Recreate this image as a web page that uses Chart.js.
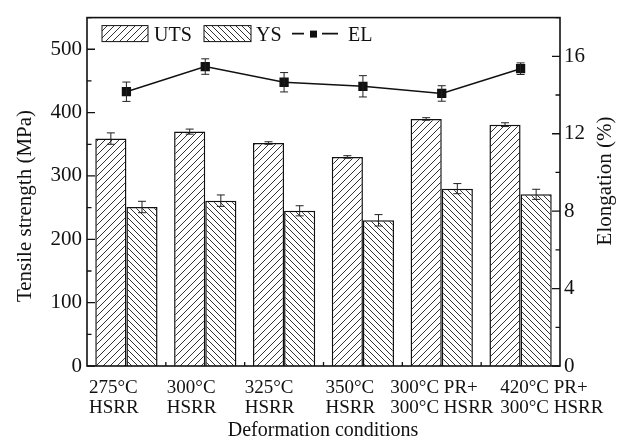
<!DOCTYPE html>
<html>
<head>
<meta charset="utf-8">
<script src="https://cdn.jsdelivr.net/npm/chart.js@4.4.0/dist/chart.umd.min.js"></script>
<style>
  html, body { margin: 0; padding: 0; background: #fff; }
  #wrap { width: 623px; height: 440px; }
</style>
</head>
<body>
<div id="wrap"><canvas id="c" width="623" height="440"></canvas></div>
<script>
// --- data ---
const categories = [
  ['275°C', 'HSRR'],
  ['300°C', 'HSRR'],
  ['325°C', 'HSRR'],
  ['350°C', 'HSRR'],
  ['300°C PR+', '300°C HSRR'],
  ['420°C PR+', '300°C HSRR']
];
const uts = [359, 370, 352, 330, 390, 381];
const utsErr = [9, 4, 2, 2, 2, 3];
const ys = [251, 261, 245, 230, 280, 271];
const ysErr = [9, 9, 8, 9, 8, 8];
const el = [14.17, 15.47, 14.66, 14.45, 14.08, 15.36];
const elErr = [0.5, 0.4, 0.5, 0.55, 0.4, 0.3];

const SERIF = "'Liberation Serif', 'Times New Roman', serif";
const labelShift = [2, 1, 0, 2, -12, 19]; // left-aligned category labels, nudged like the original

// hatch patterns
function hatch(dir, size) {
  const cv = document.createElement('canvas');
  cv.width = size; cv.height = size;
  const g = cv.getContext('2d');
  g.fillStyle = '#fff';
  g.fillRect(0, 0, size, size);
  g.strokeStyle = '#333';
  g.lineWidth = 1;
  g.beginPath();
  if (dir === '/') {
    g.moveTo(-1, size + 1); g.lineTo(size + 1, -1);
    g.moveTo(-1, 1); g.lineTo(1, -1);
    g.moveTo(size - 1, size + 1); g.lineTo(size + 1, size - 1);
  } else {
    g.moveTo(-1, -1); g.lineTo(size + 1, size + 1);
    g.moveTo(size - 1, -1); g.lineTo(size + 1, 1);
    g.moveTo(-1, size - 1); g.lineTo(1, size + 1);
  }
  g.stroke();
  return g.createPattern(cv, 'repeat');
}
const ctx0 = document.getElementById('c').getContext('2d');
const utsFill = hatch('/', 7);
const ysFill = hatch('\\', 6);

function errBar(ctx, x, yTop, yBot, cap) {
  ctx.beginPath();
  ctx.moveTo(x, yTop); ctx.lineTo(x, yBot);
  ctx.moveTo(x - cap, yTop); ctx.lineTo(x + cap, yTop);
  ctx.moveTo(x - cap, yBot); ctx.lineTo(x + cap, yBot);
  ctx.stroke();
}

const decor = {
  id: 'decor',
  afterDatasetsDraw(chart) {
    const { ctx } = chart;
    const y = chart.scales.y, y2 = chart.scales.y2;
    ctx.save();
    ctx.strokeStyle = '#222';
    ctx.lineWidth = 1;
    [[0, uts, utsErr, y], [1, ys, ysErr, y], [2, el, elErr, y2]].forEach(([di, vals, errs, sc]) => {
      const meta = chart.getDatasetMeta(di);
      meta.data.forEach((el, i) => {
        errBar(ctx, el.x, sc.getPixelForValue(vals[i] + errs[i]), sc.getPixelForValue(vals[i] - errs[i]), 4);
      });
    });
    ctx.restore();
  },
  afterDraw(chart) {
    const { ctx, chartArea: a } = chart;
    const x = chart.scales.x, y = chart.scales.y, y2 = chart.scales.y2;
    ctx.save();
    ctx.strokeStyle = '#111';
    ctx.lineWidth = 1.6;
    ctx.strokeRect(a.left, a.top, a.right - a.left, a.bottom - a.top);

    // inward ticks
    ctx.lineWidth = 1.3;
    ctx.beginPath();
    y.ticks.forEach(t => {
      const py = y.getPixelForValue(t.value);
      const len = t.value % 100 === 0 ? 8 : 4.5;
      ctx.moveTo(a.left, py); ctx.lineTo(a.left + len, py);
    });
    y2.ticks.forEach(t => {
      const py = y2.getPixelForValue(t.value);
      const len = t.value % 4 === 0 ? 8 : 4.5;
      ctx.moveTo(a.right, py); ctx.lineTo(a.right - len, py);
    });
    for (let i = 1; i < categories.length; i++) {
      const px = (x.getPixelForValue(i - 1) + x.getPixelForValue(i)) / 2;
      ctx.moveTo(px, a.bottom); ctx.lineTo(px, a.bottom - 4);
    }
    ctx.stroke();

    // category labels
    const cw = x.getPixelForValue(1) - x.getPixelForValue(0);
    ctx.fillStyle = '#111';
    ctx.font = '19px ' + SERIF;
    ctx.textAlign = 'left';
    ctx.textBaseline = 'alphabetic';
    categories.forEach((lines, i) => {
      const px = x.getPixelForValue(i) - cw / 2 + labelShift[i];
      ctx.fillText(lines[0], px, a.bottom + 27);
      ctx.fillText(lines[1], px, a.bottom + 47);
    });

    // axis titles
    ctx.font = '20px ' + SERIF;
    ctx.textAlign = 'center';
    ctx.fillText('Deformation conditions', 323, 436);
    ctx.textBaseline = 'middle';
    ctx.save();
    ctx.translate(25, 206);
    ctx.rotate(-Math.PI / 2);
    ctx.font = '21px ' + SERIF;
    ctx.fillText('Tensile strength (MPa)', 0, 0);
    ctx.restore();
    ctx.save();
    ctx.translate(605, 181);
    ctx.rotate(-Math.PI / 2);
    ctx.font = '21px ' + SERIF;
    ctx.fillText('Elongation (%)', 0, 0);
    ctx.restore();

    // legend
    const lx = a.left, ly = a.top;
    ctx.lineWidth = 1;
    ctx.strokeStyle = '#111';
    ctx.fillStyle = utsFill;
    ctx.fillRect(lx + 15, ly + 8, 46, 16);
    ctx.strokeRect(lx + 15, ly + 8, 46, 16);
    ctx.fillStyle = ysFill;
    ctx.fillRect(lx + 117, ly + 8, 47, 16);
    ctx.strokeRect(lx + 117, ly + 8, 47, 16);
    ctx.lineWidth = 1.8;
    ctx.beginPath();
    ctx.moveTo(lx + 205, ly + 16); ctx.lineTo(lx + 217, ly + 16);
    ctx.moveTo(lx + 235, ly + 16); ctx.lineTo(lx + 251, ly + 16);
    ctx.stroke();
    ctx.fillStyle = '#111';
    ctx.fillRect(lx + 223, ly + 13, 7, 7);
    ctx.font = '20px ' + SERIF;
    ctx.textAlign = 'left';
    ctx.textBaseline = 'alphabetic';
    ctx.fillText('UTS', lx + 67, ly + 23);
    ctx.fillText('YS', lx + 169, ly + 23);
    ctx.fillText('EL', lx + 261, ly + 23);
    ctx.restore();
  }
};

new Chart(ctx0, {
  type: 'bar',
  data: {
    labels: categories.map(c => c.join(' ')),
    datasets: [
      {
        label: 'UTS',
        data: uts,
        yAxisID: 'y',
        backgroundColor: utsFill,
        borderColor: '#111',
        borderWidth: 1.5,
        order: 2
      },
      {
        label: 'YS',
        data: ys,
        yAxisID: 'y',
        backgroundColor: ysFill,
        borderColor: '#111',
        borderWidth: 1.5,
        order: 2
      },
      {
        type: 'line',
        label: 'EL',
        data: el,
        yAxisID: 'y2',
        borderColor: '#111',
        borderWidth: 1.5,
        pointStyle: 'rect',
        pointRadius: 5.5,
        pointBackgroundColor: '#111',
        pointBorderColor: '#111',
        tension: 0,
        order: 1
      }
    ]
  },
  options: {
    responsive: false,
    devicePixelRatio: 1,
    animation: false,
    categoryPercentage: 0.79,
    barPercentage: 1.0,
    layout: { padding: { top: 14, left: 0, right: 0, bottom: 0 } },
    plugins: { legend: { display: false }, tooltip: { enabled: false } },
    scales: {
      x: {
        grid: { display: false },
        border: { display: false },
        ticks: { display: false },
        afterFit: s => { s.height = 74; }
      },
      y: {
        position: 'left',
        min: 0,
        max: 550,
        grid: { display: false, drawTicks: false },
        border: { display: false },
        ticks: {
          stepSize: 50,
          padding: 5,
          color: '#111',
          font: { family: SERIF, size: 21 },
          callback: v => (v % 100 === 0 ? v : '')
        },
        afterFit: s => { s.width = 87; }
      },
      y2: {
        position: 'right',
        min: 0,
        max: 18,
        grid: { display: false, drawTicks: false },
        border: { display: false },
        ticks: {
          stepSize: 2,
          padding: 4,
          color: '#111',
          font: { family: SERIF, size: 21 },
          callback: v => (v % 4 === 0 ? v : '')
        },
        afterFit: s => { s.width = 63; }
      }
    }
  },
  plugins: [decor]
});
</script>
</body>
</html>
